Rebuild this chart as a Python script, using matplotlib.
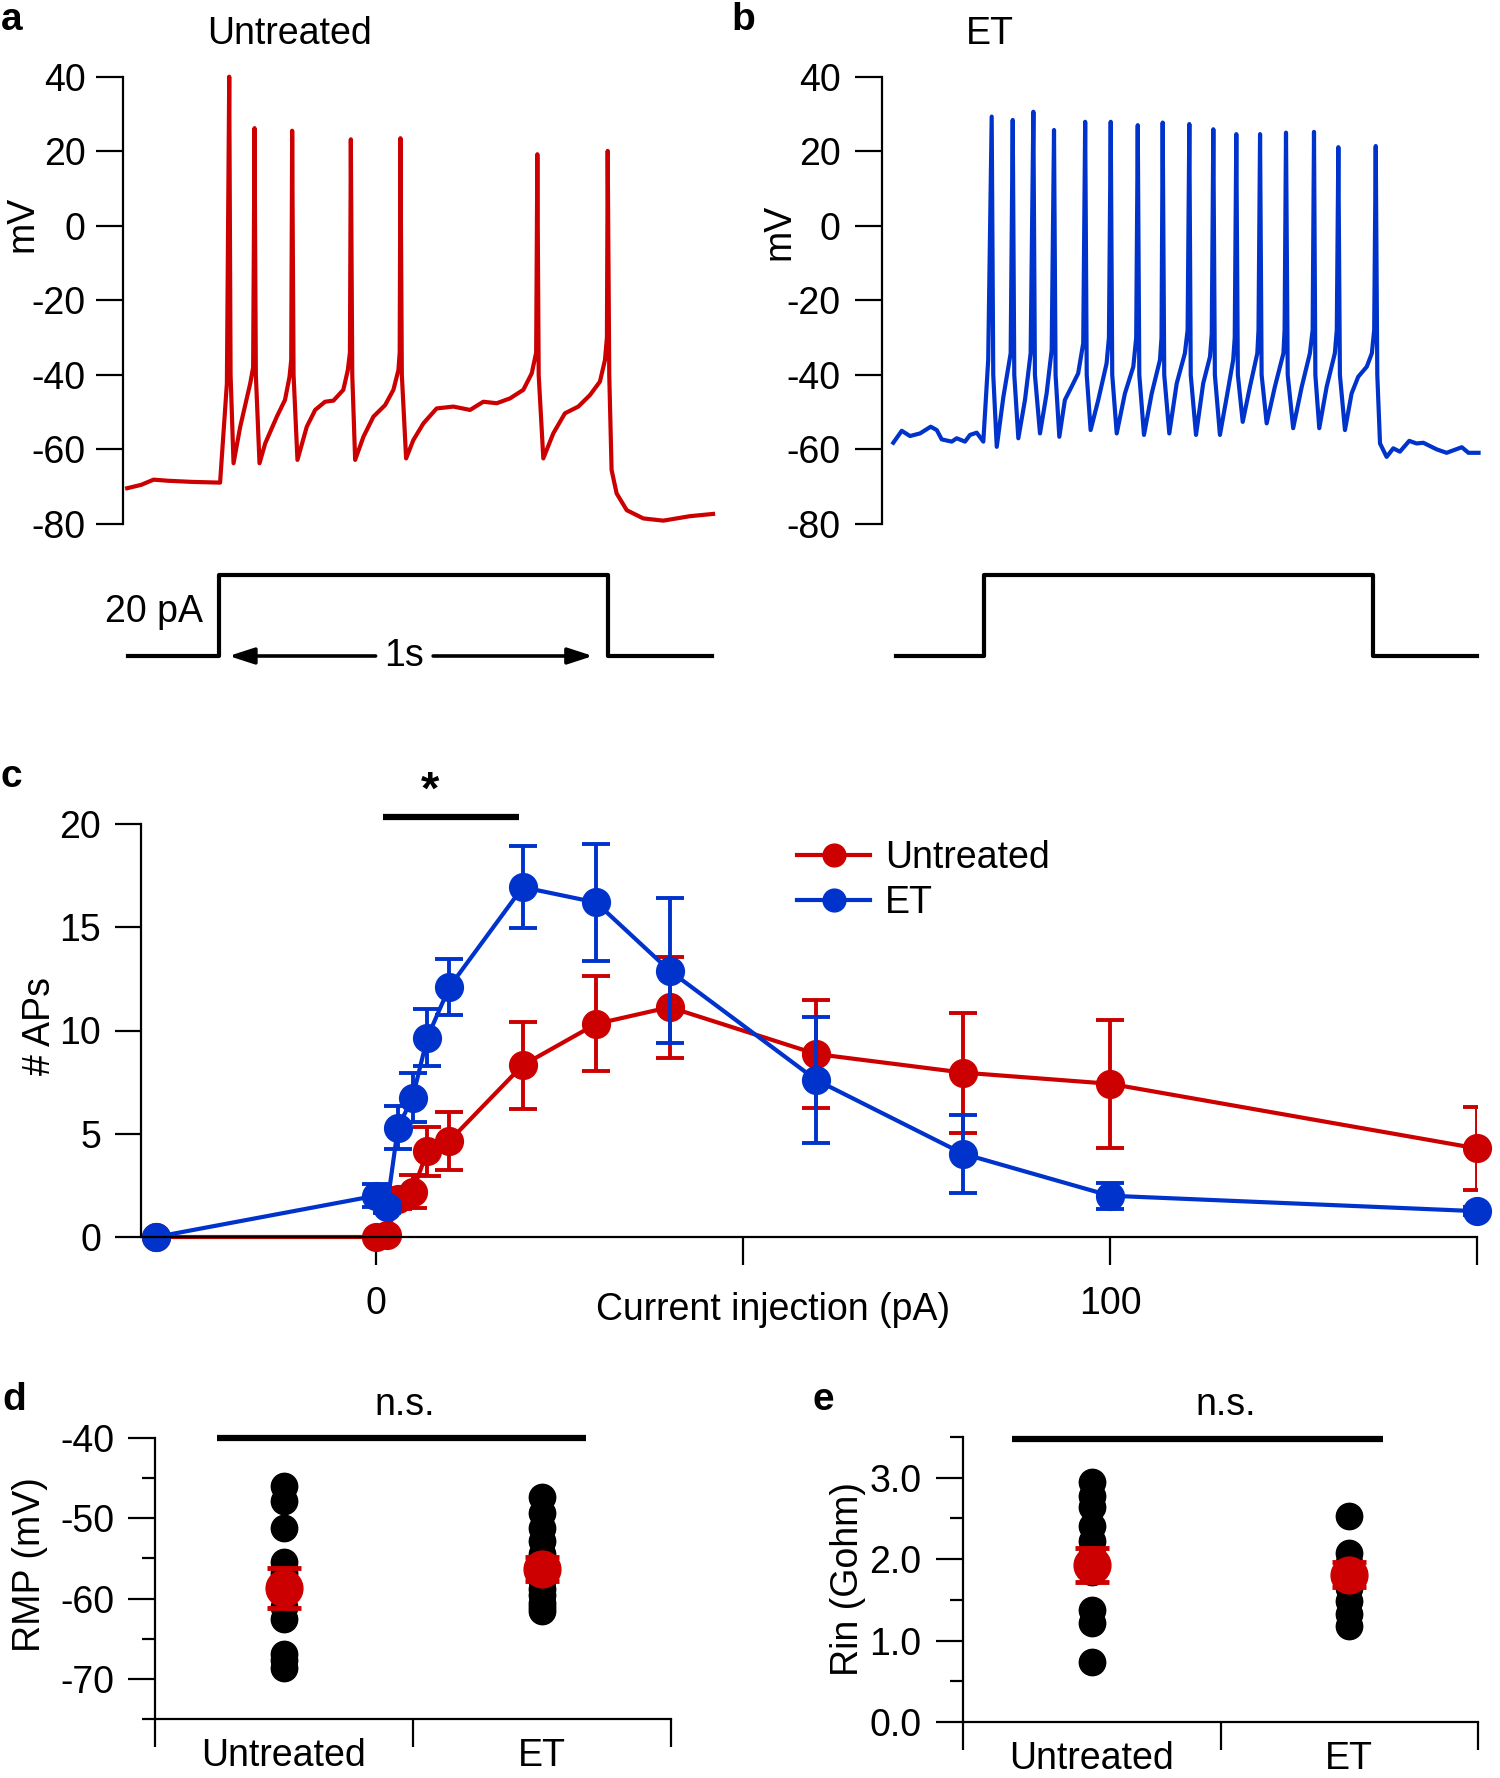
import matplotlib.pyplot as plt

W, H = 1500, 1778
RED = '#CC0000'
BLUE = '#0033CC'
FS = 27

plt.rcParams['font.family'] = ['Liberation Sans', 'DejaVu Sans']
plt.rcParams['axes.linewidth'] = 1.6
plt.rcParams['axes.unicode_minus'] = False

# ---- a: untreated trace (ms, mV) ------------------------------------------
untreated_t = [-236, -200, -168, -131, -70, 3,
               20.5, 26.5, 30, 37.6, 54.8, 80.5, 88,
               91.6, 95, 104.4, 119, 149, 170, 181.6, 186,
               188.4, 192, 202, 226, 247.6, 273, 294.6, 320, 331.6, 337,
               339.3, 343, 350.4, 371.7, 397.4, 427.5, 448.8, 461.7, 465,
               466.9, 470.5, 481.5, 500, 526, 560, 603, 646, 680, 714.6, 748.8, 783, 804.6, 816,
               819, 822.5, 834.4, 860, 890, 924.4, 954.5, 980, 993, 998,
               1000, 1004, 1010, 1023, 1049, 1091.5, 1143, 1211.6, 1271]
untreated_mv = [-70.4, -69.5, -68.1, -68.4, -68.7, -68.9,
                -42.3, 40, -40, -63.7, -53.9, -42.3, -38,
                26.2, -40, -63.7, -58.4, -51.2, -46.7, -40.5, -36,
                25.5, -40, -62.8, -53.9, -49.4, -47.2, -46.9, -44, -38.7, -34,
                23.2, -40, -62.8, -56.6, -51.2, -48.1, -44, -38.7, -34,
                23.5, -40, -62.4, -57.5, -53, -49, -48.5, -49.4, -47.2, -47.6, -46.3, -44, -39.6, -34,
                19.2, -40, -62.4, -55.7, -50.3, -48.5, -45.4, -41.8, -36, -30,
                20.1, -40, -65.5, -71.8, -76.3, -78.5, -79.1, -77.9, -77.3]

# ---- b: ET trace (ms, mV) -------------------------------------------------
et_t = [-231.6, -210, -188.7, -163, -135.6, -120, -107.3, -81.6, -68.8, -47.5, -34.7, -17.5, -0.5,
        12, 21, 25, 34, 51, 69.7,
        75, 79, 89.4, 106.5, 121,
        128, 132, 145, 162, 175,
        181, 185, 194.6, 209, 226, 243, 256,
        261, 265, 275, 294.7, 316, 322,
        326.6, 330.5, 342, 363, 384.6, 392,
        396, 400, 412, 431.8, 453, 457,
        460, 464, 477, 496, 517, 524,
        528.4, 532, 545.6, 564, 581.5, 586,
        590, 594, 607, 626, 641, 645,
        649, 653, 665.5, 684, 703, 706,
        710, 714, 727, 748, 770, 773,
        776.6, 781, 795, 817, 838, 845,
        848.5, 852, 862, 881, 902, 907,
        911, 915, 928, 945, 962, 984, 997, 1003,
        1007, 1011, 1018, 1035, 1052, 1069, 1093, 1112, 1129, 1164, 1189, 1228, 1245, 1271]
et_mv = [-58.2, -55, -56.4, -55.7, -53.9, -54.8, -57.3, -57.9, -57, -57.9, -56.1, -55.5, -57.9,
         -36, 29.3, -40, -59.3, -45.9, -34.2,
         28.4, -40, -57, -46.7, -34.2,
         30.6, -40, -55.7, -45, -33.3,
         25.7, -40, -56.6, -46.7, -43.2, -39.6, -31.5,
         27.9, -40, -54.8, -46.7, -36.9, -30,
         27.9, -40, -55.7, -45, -37.8, -30,
         27, -40, -56.1, -45, -36, -30,
         27.7, -40, -55.7, -42.3, -34.2, -28,
         27.3, -40, -56.1, -42.3, -35.1, -29,
         25.9, -40, -56.1, -45, -36, -30,
         24.6, -40, -52.6, -43.2, -34.2, -28,
         24.6, -40, -53, -43.2, -34.2, -28,
         25, -40, -54.3, -43.2, -34.2, -28,
         25.2, -40, -54.3, -43.2, -34.2, -28,
         21.1, -40, -54.8, -45, -40.5, -37.8, -34.2, -28,
         21.4, -40, -58.4, -62, -59.7, -60.6, -57.7, -58.4, -58.2, -60, -60.9, -59.4, -60.9, -60.9]

# current step (ms, pA)
step_a_t = [-233, 0, 0, 1000, 1000, 1268]
step_b_t = [-225, 0, 0, 1000, 1000, 1267]
step_pa = [0, 0, 20, 20, 0, 0]

# ---- c: number of APs vs injected current ---------------------------------
current_pa = [-30, 0, 1.5, 3, 5, 7, 10, 20, 30, 40, 60, 80, 100, 150]
aps_untreated = [0, 0, 0.1, 1.85, 2.2, 4.15, 4.65, 8.32, 10.32, 11.13, 8.86, 7.96, 7.42, 4.29]
aps_untreated_err = [0, 0, 0.1, 0.5, 0.8, 1.2, 1.4, 2.1, 2.3, 2.45, 2.6, 2.9, 3.1, 2.0]
aps_et = [0, 2.0, 1.45, 5.3, 6.75, 9.65, 12.1, 16.94, 16.2, 12.9, 7.6, 4.03, 2.0, 1.25]
aps_et_err = [0, 0.55, 0.3, 1.05, 1.2, 1.37, 1.35, 2.0, 2.85, 3.5, 3.07, 1.88, 0.62, 0.2]

# ---- d, e: single cells and means -----------------------------------------
groups = ['Untreated', 'ET']
rmp_untreated = [-46.0, -47.8, -51.2, -55.4, -56.8, -58.0, -59.5, -61.0, -62.5, -66.9, -67.6, -68.7]
rmp_et = [-47.3, -49.3, -51.2, -52.8, -54.5, -56.5, -57.8, -58.8, -59.5, -60.5, -61.0, -61.6]
rmp_mean = [-58.7, -56.3]
rmp_sem = [2.5, 1.5]
rin_untreated = [2.95, 2.78, 2.64, 2.41, 2.22, 2.05, 1.84, 1.37, 1.21, 0.74]
rin_et = [2.53, 2.08, 1.95, 1.80, 1.64, 1.48, 1.33, 1.18]
rin_mean = [1.93, 1.81]
rin_sem = [0.21, 0.15]

fig = plt.figure(figsize=(W / 100, H / 100), dpi=100)


def add_box(left, top, right, bottom):
    # axes placed in pixel coordinates of the final image
    return fig.add_axes([left / W, 1 - bottom / H, (right - left) / W, (bottom - top) / H])


def label(x, y, s, **kw):
    kw.setdefault('fontsize', FS)
    kw.setdefault('ha', 'center')
    kw.setdefault('va', 'center')
    fig.text(x / W, 1 - y / H, s, **kw)


def trace_panel(left, right, xlim, t, mv, color, step_t, pad):
    ax = add_box(left, 76.7, right, 524)
    ax.plot(t, mv, color=color, lw=3.0, clip_on=False)
    ax.set_xlim(*xlim)
    ax.set_ylim(-80, 40)
    ax.set_yticks(range(-80, 41, 20))
    ax.set_xticks([])
    for side in ('top', 'right', 'bottom'):
        ax.spines[side].set_visible(False)
    ax.tick_params(axis='y', length=19.5, width=1.6, labelsize=FS, pad=pad)
    st = add_box(left, 575, right, 656)
    st.plot(step_t, step_pa, color='black', lw=3.0, clip_on=False)
    st.set_xlim(*xlim)
    st.set_ylim(0, 20)
    st.axis('off')
    return ax, st


# ── a / b ───────────────────────────────────────────────────────────────────
ax_a, st_a = trace_panel(122.5, 715, (-248, 1276), untreated_t, untreated_mv, RED, step_a_t, 7)
ax_b, st_b = trace_panel(881.7, 1480, (-261.4, 1274.7), et_t, et_mv, BLUE, step_b_t, 10)

arrow = dict(arrowstyle='-|>,head_length=0.4,head_width=0.13', color='black', lw=2.6,
             mutation_scale=38, shrinkA=0, shrinkB=0)
st_a.annotate('', xy=(25.7, 0), xytext=(403, 0), arrowprops=arrow, annotation_clip=False)
st_a.annotate('', xy=(962, 0), xytext=(551, 0), arrowprops=arrow, annotation_clip=False)
st_a.text(476, 0, '1s', ha='center', va='center', fontsize=FS)

label(12, 20, 'a', fontweight='bold', fontsize=28)
label(743, 20, 'b', fontweight='bold', fontsize=28)
label(290, 34, 'Untreated')
label(990, 34, 'ET')
label(22, 224, 'mV', rotation=90)
label(779, 232, 'mV', rotation=90)
label(203, 612, '20 pA', ha='right')

# ── c ───────────────────────────────────────────────────────────────────────
ax_c = add_box(141, 824, 1477, 1237)
for vals, err, color, name in ((aps_untreated, aps_untreated_err, RED, 'Untreated'),
                               (aps_et, aps_et_err, BLUE, 'ET')):
    ax_c.errorbar(current_pa, vals, yerr=err, fmt='none', ecolor=color,
                  elinewidth=2.8, capsize=10, capthick=2.8)
    ax_c.plot(current_pa, vals, '-o', color=color, lw=3.0, ms=20, label=name, clip_on=False)
ax_c.set_xlim(-32, 150)
ax_c.set_ylim(0, 20)
ax_c.set_xticks([0, 50, 100, 150])
ax_c.set_xticklabels(['0', '', '100', ''])
ax_c.set_yticks([0, 5, 10, 15, 20])
ax_c.spines['top'].set_visible(False)
ax_c.spines['right'].set_visible(False)
ax_c.tick_params(axis='x', length=20, width=1.6, labelsize=FS, pad=15)
ax_c.tick_params(axis='y', length=18.7, width=1.6, labelsize=FS, pad=10)
ax_c.plot([0.93, 19.5], [20.34, 20.34], color='black', lw=4.5, solid_capstyle='butt', clip_on=False)
ax_c.legend(loc='upper left', bbox_to_anchor=(797 / W, 1 - 840 / H), bbox_transform=fig.transFigure,
            frameon=False, fontsize=FS, handlelength=1.95, handletextpad=0.4, labelspacing=0.25,
            borderpad=0, borderaxespad=0, markerscale=0.82)

label(11, 777, 'c', fontweight='bold', fontsize=28)
label(430, 792, '*', fontsize=34, fontweight='bold')
label(40, 1026, '# APs', rotation=90)
label(773, 1310, 'Current injection (pA)')


# ── d / e ───────────────────────────────────────────────────────────────────
def dot_panel(box, cells, means, sems, ylim, major, minor, ticklabels, bar, pad):
    ax = add_box(*box)
    for i, vals in enumerate(cells):
        ax.plot([i + 0.5] * len(vals), vals, 'o', color='black', ms=19, clip_on=False)
    ax.errorbar([0.5, 1.5], means, yerr=sems, fmt='o', color=RED, ms=26.5,
                elinewidth=3, capsize=12, capthick=3.5, clip_on=False)
    ax.plot(bar[0], bar[1], color='black', lw=4.5, solid_capstyle='butt', clip_on=False)
    ax.set_xlim(0, 2)
    ax.set_ylim(*ylim)
    ax.set_yticks(major)
    ax.set_yticklabels(ticklabels)
    ax.set_yticks(minor, minor=True)
    ax.set_xticks([0, 1, 2])
    ax.set_xticklabels([])
    ax.set_xticks([0.5, 1.5], minor=True)
    ax.set_xticklabels(groups, minor=True)
    ax.spines['top'].set_visible(False)
    ax.spines['right'].set_visible(False)
    ax.tick_params(axis='x', which='major', length=20, width=1.6)
    ax.tick_params(axis='x', which='minor', length=0, pad=14, labelsize=FS)
    ax.tick_params(axis='y', which='major', length=19.4, width=1.6, pad=pad, labelsize=FS)
    ax.tick_params(axis='y', which='minor', length=9.4, width=1.6)
    return ax


dot_panel((155, 1438, 671, 1719), [rmp_untreated, rmp_et], rmp_mean, rmp_sem, (-75, -40),
          [-70, -60, -50, -40], [-75, -65, -55, -45], ['-70', '-60', '-50', '-40'],
          ([0.24, 1.67], [-40, -40]), 10)
dot_panel((963, 1437, 1478, 1722), [rin_untreated, rin_et], rin_mean, rin_sem, (0, 3.5),
          [0, 1, 2, 3], [0.5, 1.5, 2.5, 3.5], ['0.0', '1.0', '2.0', '3.0'],
          ([0.19, 1.63], [3.48, 3.48]), 10.5)

label(14, 1400, 'd', fontweight='bold', fontsize=28)
label(823, 1400, 'e', fontweight='bold', fontsize=28)
label(405, 1405, 'n.s.')
label(1226, 1405, 'n.s.')
label(30, 1565, 'RMP (mV)', rotation=90)
label(848, 1579, 'Rin (Gohm)', rotation=90)

fig.savefig('out.png', dpi=100)
